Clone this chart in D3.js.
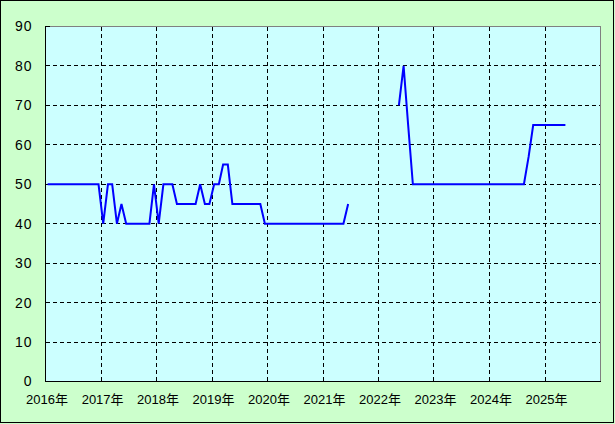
<!DOCTYPE html>
<html>
<head>
<meta charset="utf-8">
<script src="https://cdn.jsdelivr.net/npm/d3@7"></script>
<style>
  html, body { margin: 0; padding: 0; background: #CCFFCC; }
  svg { display: block; }
  text { font-family: "Liberation Sans", Arial, "Noto Sans CJK JP", sans-serif; fill: #000; }
</style>
</head>
<body>
<script>
// ---- data (monthly, starting 2016-01; null = no data) ----
const startYear = 2016;
const values = [
  // 2016
  50, 50, 50, 50, 50, 50, 50, 50, 50, 50, 50, 50,
  // 2017
  40, 50, 50, 40, 45, 40, 40, 40, 40, 40, 40, 50,
  // 2018
  40, 50, 50, 50, 45, 45, 45, 45, 45, 50, 45, 45,
  // 2019
  50, 50, 55, 55, 45, 45, 45, 45, 45, 45, 45, 40,
  // 2020
  40, 40, 40, 40, 40, 40, 40, 40, 40, 40, 40, 40,
  // 2021
  40, 40, 40, 40, 40, 45, null, null, null, null, null, null,
  // 2022
  null, null, null, null, 70, 80, 65, 50, 50, 50, 50, 50,
  // 2023
  50, 50, 50, 50, 50, 50, 50, 50, 50, 50, 50, 50,
  // 2024
  50, 50, 50, 50, 50, 50, 50, 50, 57, 65, 65, 65,
  // 2025
  65, 65, 65, 65, 65
];
const yearTicks = [2016, 2017, 2018, 2019, 2020, 2021, 2022, 2023, 2024, 2025];
const yTicks = [0, 10, 20, 30, 40, 50, 60, 70, 80, 90];
const yearSuffix = "年";

const W = 615, H = 424;
const svg = d3.select("body").append("svg").attr("width", W).attr("height", H);

// background & outer frame
svg.append("rect").attr("x", 0).attr("y", 0).attr("width", W).attr("height", H).attr("fill", "#CCFFCC");
svg.append("rect").attr("x", 0.5).attr("y", 0.5).attr("width", 613).attr("height", 422)
  .attr("fill", "none").attr("stroke", "#000").attr("stroke-width", 1);

const x = d3.scaleTime()
  .domain([new Date(2016, 0, 1), new Date(2026, 0, 1)])
  .range([45.5, 600.5]);
const y = d3.scaleLinear().domain([0, 90]).range([381.5, 26.5]);
const crisp = v => Math.floor(v) + 0.5;

// plot area
svg.append("rect").attr("x", 45).attr("y", 26).attr("width", 555).attr("height", 355).attr("fill", "#CCFFFF");

// grid lines
const grid = svg.append("g").attr("stroke", "#000").attr("stroke-width", 1).attr("stroke-dasharray", "4,3");
yTicks.filter(t => t > 0 && t < 90).forEach(t => {
  grid.append("line").attr("x1", 46).attr("x2", 600).attr("y1", crisp(y(t))).attr("y2", crisp(y(t)));
});
yearTicks.filter(t => t > 2016).forEach(t => {
  const xx = crisp(x(new Date(t, 0, 1)));
  grid.append("line").attr("x1", xx).attr("x2", xx).attr("y1", 27).attr("y2", 381);
});

// plot borders: top/right gray, left/bottom black
svg.append("line").attr("x1", 45).attr("x2", 601).attr("y1", 26.5).attr("y2", 26.5).attr("stroke", "#808080");
svg.append("line").attr("x1", 600.5).attr("x2", 600.5).attr("y1", 26).attr("y2", 382).attr("stroke", "#808080");
svg.append("line").attr("x1", 45.5).attr("x2", 45.5).attr("y1", 26).attr("y2", 382).attr("stroke", "#000");
svg.append("line").attr("x1", 45).attr("x2", 601).attr("y1", 381.5).attr("y2", 381.5).attr("stroke", "#000");
svg.append("line").attr("x1", 45).attr("x2", 50).attr("y1", 26.5).attr("y2", 26.5).attr("stroke", "#000");

// y labels
const yAxis = d3.axisLeft(y).tickValues(yTicks).tickSize(0).tickPadding(13);
const gy = svg.append("g").attr("transform", "translate(45.5,0)").call(yAxis);
gy.select(".domain").remove();
gy.selectAll("text").attr("font-size", "14px").attr("font-family", "\"Liberation Sans\", Arial, sans-serif")
  .style("letter-spacing", "1px").attr("fill", "#000");

// x labels
const xAxis = d3.axisBottom(x)
  .tickValues(yearTicks.map(t => new Date(t, 0, 1)))
  .tickFormat(d => d.getFullYear() + yearSuffix)
  .tickSize(0).tickPadding(14);
const gx = svg.append("g").attr("transform", "translate(1,381)").call(xAxis);
gx.select(".domain").remove();
gx.selectAll("text").attr("font-size", "13px").attr("fill", "#000")
  .attr("font-family", "\"Liberation Sans\", Arial, \"Noto Sans CJK JP\", sans-serif");

// data line
const data = values.map((v, i) => ({ date: new Date(startYear, i, 15), value: v }));
const line = d3.line()
  .defined(d => d.value !== null)
  .x(d => x(d.date))
  .y(d => y(d.value));
svg.append("path").datum(data)
  .attr("fill", "none").attr("stroke", "#0000FF").attr("stroke-width", 2)
  .attr("stroke-linejoin", "miter").attr("d", line);
</script>
</body>
</html>
